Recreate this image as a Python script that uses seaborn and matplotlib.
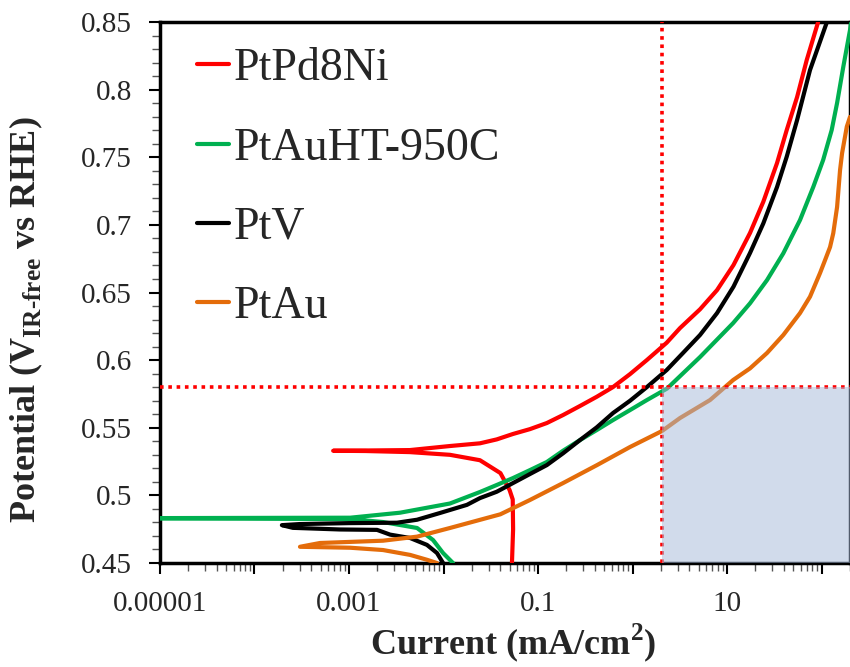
import numpy as np
import pandas as pd
import matplotlib
matplotlib.use('Agg')
import matplotlib.pyplot as plt
import seaborn as sns
from matplotlib.ticker import LogLocator, MultipleLocator, NullFormatter

# current (mA/cm2) and potential (V); each trace runs
# from the bottom of the cathodic branch, through the OCP spike, up the anodic branch
pd8ni_i = [0.053, 0.0545, 0.054, 0.050, 0.040, 0.0243, 0.0117, 0.0044, 0.0015, 0.00068,
           0.0015, 0.0044, 0.0117, 0.0243, 0.0366, 0.0543, 0.0822, 0.124, 0.184, 0.278,
           0.418, 0.622, 0.942, 1.42, 2.30, 3.18, 5.18, 7.84, 11.7, 17.5, 24.2, 33.8,
           42.8, 55.1, 69.7, 92]
pd8ni_v = [0.45, 0.475, 0.497, 0.504, 0.5165, 0.526, 0.530, 0.532, 0.5328, 0.533,
           0.5332, 0.5335, 0.5365, 0.5385, 0.5414, 0.5454, 0.549, 0.5535, 0.5594, 0.5661,
           0.5729, 0.5801, 0.5897, 0.6001, 0.6129, 0.6237, 0.6376, 0.6518, 0.6703, 0.694,
           0.7171, 0.7457, 0.7701, 0.7945, 0.8219, 0.85]

auht_i = [0.0126, 0.00989, 0.00775, 0.00525, 0.00229, 0.00103, 8e-6,
          8e-6, 0.00103, 0.00347, 0.0117, 0.0243, 0.0366, 0.0543, 0.0822, 0.124, 0.184,
          0.278, 0.418, 0.622, 0.942, 1.42, 2.32, 5.18, 11.6, 17.5, 26.5, 39.4, 59.2,
          81.9, 104, 128, 146, 170, 200, 212]
auht_v = [0.45, 0.4574, 0.467, 0.4759, 0.4803, 0.4825, 0.483,
          0.4832, 0.4835, 0.4872, 0.494, 0.5025, 0.5077, 0.5128, 0.5187, 0.5247, 0.533,
          0.5409, 0.5483, 0.5557, 0.5631, 0.5705, 0.579, 0.6023, 0.6274, 0.642, 0.6592,
          0.679, 0.7036, 0.7282, 0.748, 0.7701, 0.7901, 0.817, 0.844, 0.856]

ptv_i = [0.0099, 0.00853, 0.00668, 0.00443, 0.00272, 0.00198, 0.0008, 0.000255, 0.000195,
         0.0003, 0.001, 0.00322, 0.00525, 0.00919, 0.0177, 0.0243, 0.0366, 0.0543, 0.0822,
         0.124, 0.184, 0.278, 0.418, 0.622, 0.942, 1.42, 2.30, 3.42, 5.18, 7.84, 11.7,
         17.5, 24.2, 33.8, 42.8, 55.1, 75.5, 114]
ptv_v = [0.45, 0.4574, 0.4634, 0.4685, 0.471, 0.4745, 0.4748, 0.476, 0.478,
         0.4788, 0.4795, 0.4798, 0.482, 0.487, 0.493, 0.498, 0.5027, 0.5091, 0.5158,
         0.5224, 0.5311, 0.5409, 0.5503, 0.5609, 0.570, 0.5801, 0.5927, 0.6053, 0.6186,
         0.6348, 0.6543, 0.6792, 0.7011, 0.728, 0.7504, 0.7775, 0.8145, 0.85]

ptau_i = [0.00853, 0.00668, 0.00443, 0.00229, 0.00103, 0.000303,
          0.000493, 0.00229, 0.00525, 0.0117, 0.0399, 0.0822, 0.184, 0.421, 0.942, 2.05,
          3.18, 6.61, 11.6, 17.5, 26.5, 39.4, 59.2, 75.5, 96.4, 109, 123, 133, 146, 157,
          165, 185, 200]
ptau_v = [0.45, 0.4524, 0.456, 0.4596, 0.4613, 0.462,
          0.4648, 0.4665, 0.4695, 0.4759, 0.486, 0.4966, 0.5091, 0.5224, 0.5358, 0.5476,
          0.5572, 0.5705, 0.5853, 0.5939, 0.6053, 0.6186, 0.6348, 0.6469, 0.6644, 0.674,
          0.6836, 0.6938, 0.7132, 0.7406, 0.7531, 0.7726, 0.7798]

labels = ['PtPd8Ni', 'PtAuHT-950C', 'PtV', 'PtAu']
colors = ['#ff0000', '#00b050', '#000000', '#e46c0a']

ref_current = 2.05
ref_potential = 0.58

x_decades = [1e-5, 1e-4, 1e-3, 1e-2, 0.1, 1, 10, 100]
x_ticklabels = ['0.00001', '', '0.001', '', '0.1', '', '10', '']

sns.set_style('white')
plt.rcParams['font.family'] = ['Liberation Serif', 'DejaVu Serif']
plt.rcParams['mathtext.fontset'] = 'custom'
plt.rcParams['mathtext.rm'] = 'Liberation Serif'
plt.rcParams['mathtext.bf'] = 'Liberation Serif:bold'

fig = plt.figure(figsize=(8.5, 6.67), dpi=100)
ax = fig.add_axes([0.1882, 0.1559, 0.8118, 0.8111])

series = [(pd8ni_i, pd8ni_v), (auht_i, auht_v), (ptv_i, ptv_v), (ptau_i, ptau_v)]
for (cur, pot), name, col in zip(series, labels, colors):
    df = pd.DataFrame({'i': cur, 'v': pot})
    sns.lineplot(data=df, x='i', y='v', sort=False, estimator=None,
                 color=col, lw=3, ax=ax, label=name, zorder=3)

ax.set_xscale('log')
ax.set_xlim(1e-5, 200)
ax.set_ylim(0.45, 0.85)

dots = (0, (1.0, 1.3))
ax.axhline(ref_potential, color='#ff0000', lw=2.6, ls=dots, zorder=4)
ax.axvline(ref_current, color='#ff0000', lw=2.6, ls=dots, zorder=4)
ax.fill_between([ref_current, 200], 0.45, ref_potential,
                color='#a4b9d8', alpha=0.5, lw=0, zorder=5)

ax.set_xticks(x_decades)
ax.set_xticklabels(x_ticklabels)
ax.xaxis.set_minor_locator(LogLocator(base=10, subs=np.arange(2, 10), numticks=50))
ax.xaxis.set_minor_formatter(NullFormatter())
ax.set_yticks(np.arange(0.45, 0.851, 0.05))
ax.set_yticklabels(['%g' % round(t, 2) for t in np.arange(0.45, 0.851, 0.05)])
ax.yaxis.set_minor_locator(MultipleLocator(0.01))

ax.tick_params(which='major', direction='out', length=8, width=1.5, color='black',
               labelsize=21, pad=12, bottom=True, left=True)
ax.tick_params(which='minor', direction='out', length=6, width=1, color='#555555',
               bottom=True, left=True)

for s in ax.spines.values():
    s.set_linewidth(2.5)
    s.set_color('black')

ax.set_xlabel(r'Current (mA/cm$^\mathbf{2}$)', fontsize=26, fontweight='bold')
ax.set_ylabel('Potential (V$_\\mathbf{IR‐free}$ vs RHE)', fontsize=26, fontweight='bold')
ax.xaxis.set_label_coords(0.512, -0.108)
ax.yaxis.set_label_coords(-0.167, 0.45)

ax.legend(loc='upper left', bbox_to_anchor=(0.054, 0.952), frameon=False, fontsize=33,
          handlelength=0.7, handletextpad=0.1, labelspacing=0.8, borderpad=0,
          borderaxespad=0)

fig.savefig('out.png', dpi=100)
